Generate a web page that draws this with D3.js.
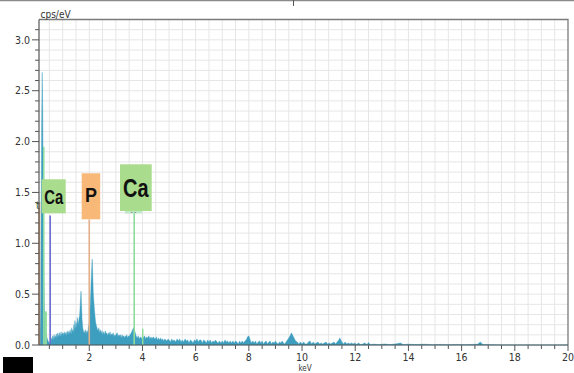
<!DOCTYPE html>
<html><head><meta charset="utf-8">
<script src="https://cdn.jsdelivr.net/npm/d3@7"></script>
<style>body{margin:0;background:#fff}svg{display:block}</style>
</head><body>
<script>
// spectrum: [keV, cps/eV]
const spectrum = [
[0.11,0],[0.14,0.05],[0.17,0.4],[0.19,1.3],[0.21,2.2],[0.23,2.68],[0.25,2.3],[0.27,1.5],[0.29,0.8],[0.31,0.4],[0.33,0.25],[0.36,0.15],[0.40,0.08],[0.45,0.04],[0.50,0.02],[0.53,0.01],
[0.56,0.03],[0.58,0.07],[0.60,0.05],[0.62,0.09],[0.64,0.05],[0.66,0.08],[0.68,0.1],[0.70,0.06],[0.72,0.09],[0.74,0.07],[0.76,0.11],[0.78,0.07],[0.80,0.09],[0.82,0.12],[0.84,0.08],[0.86,0.1],[0.88,0.12],[0.90,0.08],[0.92,0.1],[0.94,0.13],[0.96,0.09],[0.98,0.11],[1.00,0.12],[1.02,0.09],[1.04,0.12],[1.06,0.1],[1.08,0.13],[1.10,0.1],[1.12,0.12],[1.14,0.09],[1.16,0.13],[1.18,0.11],[1.20,0.14],[1.22,0.1],[1.24,0.13],[1.26,0.11],[1.28,0.15],[1.30,0.12],[1.32,0.11],[1.34,0.17],[1.36,0.13],[1.38,0.15],[1.40,0.12],[1.42,0.2],[1.44,0.14],[1.46,0.24],[1.48,0.15],[1.50,0.22],[1.52,0.17],[1.55,0.27],[1.58,0.2],[1.61,0.25],[1.64,0.3],[1.67,0.45],[1.69,0.53],[1.71,0.4],[1.73,0.25],[1.76,0.16],[1.79,0.13],[1.82,0.12],[1.85,0.15],[1.88,0.11],[1.91,0.14],[1.94,0.12],[1.97,0.18],[2.00,0.22],[2.03,0.36],[2.06,0.55],[2.09,0.75],[2.11,0.845],[2.13,0.7],[2.15,0.52],[2.18,0.4],[2.21,0.3],[2.24,0.22],[2.27,0.19],[2.30,0.16],[2.33,0.14],[2.36,0.17],[2.39,0.12],[2.42,0.15],[2.45,0.11],[2.48,0.14],[2.51,0.1],[2.54,0.13],[2.57,0.1],[2.60,0.14],[2.63,0.11],[2.66,0.12],[2.69,0.09],[2.72,0.12],[2.75,0.1],[2.78,0.13],[2.81,0.09],[2.84,0.11],[2.87,0.1],[2.90,0.12],[2.93,0.08],[2.96,0.1],[2.99,0.09],[3.02,0.11],[3.05,0.12],[3.08,0.08],[3.11,0.1],[3.14,0.09],[3.17,0.1],[3.20,0.07],[3.23,0.1],[3.26,0.08],[3.29,0.09],[3.32,0.07],[3.35,0.09],[3.38,0.08],[3.41,0.1],[3.44,0.07],[3.47,0.09],[3.50,0.08],[3.53,0.1],[3.56,0.11],[3.60,0.13],[3.64,0.16],[3.68,0.17],[3.72,0.13],[3.76,0.09],[3.80,0.07],[3.84,0.09],[3.88,0.06],[3.92,0.08],[3.96,0.06],[4.00,0.09],[4.04,0.07],[4.08,0.09],[4.12,0.06],[4.16,0.08],[4.20,0.07],[4.24,0.09],[4.28,0.06],[4.32,0.08],[4.36,0.06],[4.40,0.08],[4.44,0.07],[4.48,0.06],[4.52,0.08],[4.56,0.05],[4.60,0.07],[4.64,0.05],[4.68,0.07],[4.72,0.05],[4.76,0.06],[4.80,0.04],[4.84,0.06],[4.88,0.05],[4.92,0.04],[4.96,0.06],
[5.00,0.05],[5.05,0.03],[5.10,0.06],[5.15,0.04],[5.20,0.05],[5.25,0.03],[5.30,0.06],[5.35,0.04],[5.40,0.06],[5.45,0.03],[5.50,0.05],[5.55,0.03],[5.60,0.06],[5.65,0.04],[5.70,0.05],[5.75,0.02],[5.80,0.05],[5.85,0.04],[5.90,0.02],[5.95,0.05],[6.00,0.04],[6.05,0.06],[6.10,0.03],[6.15,0.05],[6.20,0.05],[6.25,0.02],[6.30,0.05],[6.35,0.04],[6.40,0.02],[6.45,0.05],[6.50,0.03],[6.55,0.05],[6.60,0.02],[6.65,0.04],[6.70,0.03],[6.75,0.05],[6.80,0.03],[6.85,0.02],[6.90,0.04],[6.95,0.02],[7.00,0.04],[7.05,0.02],[7.10,0.05],[7.15,0.03],[7.20,0.04],[7.25,0.02],[7.30,0.04],[7.35,0.02],[7.40,0.04],[7.45,0.02],[7.50,0.04],[7.55,0.03],[7.60,0.01],[7.65,0.04],[7.70,0.02],[7.75,0.04],[7.80,0.02],[7.85,0.04],[7.90,0.05],[7.95,0.08],[8.00,0.09],[8.05,0.05],[8.10,0.02],[8.15,0.04],[8.20,0.02],[8.25,0.04],[8.30,0.01],[8.35,0.03],[8.40,0.04],[8.45,0.02],[8.50,0.04],[8.55,0.01],[8.60,0.03],[8.65,0.04],[8.70,0.01],[8.75,0.03],[8.80,0.04],[8.85,0.01],[8.90,0.03],[8.95,0.02],[9.00,0.04],[9.05,0.02],[9.10,0.01],[9.15,0.03],[9.20,0.02],[9.25,0.04],[9.30,0.02],[9.35,0.01],[9.40,0.03],[9.45,0.05],[9.50,0.07],[9.55,0.09],[9.60,0.12],[9.64,0.1],[9.68,0.08],[9.72,0.06],[9.76,0.04],[9.82,0.03],[9.88,0.01],[9.94,0.03],[10.00,0.01],[10.06,0.03],[10.12,0.01],[10.18,0.01],[10.24,0.03],[10.30,0.04],[10.36,0.01],[10.42,0.03],[10.48,0.01],[10.54,0.02],[10.60,0.03],[10.66,0.01],[10.72,0.02],[10.78,0.01],[10.84,0.02],[10.90,0.03],[10.96,0.01],[11.02,0.02],[11.08,0.01],[11.14,0.02],[11.20,0.03],[11.26,0.01],[11.32,0.03],[11.38,0.05],[11.42,0.07],[11.46,0.05],[11.50,0.03],[11.56,0.01],[11.62,0.03],[11.68,0.01],[11.74,0.02],[11.80,0.01],[11.86,0.02],[11.92,0.01],[11.98,0.02],[12.05,0.005],[12.12,0.02],[12.20,0.005],[12.28,0.01],[12.36,0.02],[12.44,0.005],[12.50,0.025],[12.56,0.005],[12.7,0.008],[12.9,0.004],[13.1,0.01],[13.3,0.004],[13.5,0.01],[13.7,0.02],[13.8,0.004],[14.0,0.008],[14.3,0.004],[14.6,0.008],[14.9,0.003],[15.2,0.006],[15.5,0.003],[15.8,0.006],[16.1,0.003],[16.4,0.006],[16.6,0.008],[16.7,0.03],[16.8,0.006],[17.1,0.003],[17.5,0.001],[18.0,0.0],[20.0,0.0]
];
const xTicks = [2,4,6,8,10,12,14,16,18,20];
const yTicks = [0.0,0.5,1.0,1.5,2.0,2.5,3.0];
const markerLabels = ["Ca","P","Ca"];
const markerEnergies = [0.53, 2.0, 3.69];

const W=574,H=373;
const svg=d3.select("body").append("svg").attr("width",W).attr("height",H);
const x=d3.scaleLinear().domain([0.11,20]).range([39,568]);
const y=d3.scaleLinear().domain([0,3.2]).range([345,19.5]);
const font="'DejaVu Sans Condensed', 'DejaVu Sans', sans-serif";

// top strip line
svg.append("line").attr("x1",0).attr("x2",W).attr("y1",0.5).attr("y2",0.5).attr("stroke","#8a8a8a").attr("stroke-width",1.5);
svg.append("line").attr("x1",293.5).attr("x2",293.5).attr("y1",0).attr("y2",6).attr("stroke","#555");

// grid
const g=svg.append("g");
g.selectAll(".vg").data(d3.range(0.5,20,0.5)).join("line")
 .attr("x1",d=>x(d)).attr("x2",d=>x(d)).attr("y1",y(3.2)).attr("y2",y(0)).attr("stroke","#e6e6e6");
g.selectAll(".hg").data(d3.range(1,32).map(i=>i/10)).join("line")
 .attr("x1",x.range()[0]).attr("x2",x.range()[1]).attr("y1",d=>y(d)).attr("y2",d=>y(d)).attr("stroke","#e6e6e6");

// frame top/right
svg.append("path").attr("d",`M${x.range()[0]},${y(3.2)}H${x.range()[1]}V${y(0)}`).attr("fill","none").attr("stroke","#7a7a7a").attr("stroke-width",1.3);

// spectrum
const area=d3.area().x(d=>x(d[0])).y0(y(0)).y1(d=>y(d[1]));
svg.append("path").datum(spectrum).attr("d",area).attr("fill","#3d9ec0").attr("stroke","#3d9ec0").attr("stroke-width",0.4);

// marker lines near origin
svg.append("line").attr("x1",x(0.12)).attr("x2",x(0.12)).attr("y1",y(1.4)).attr("y2",y(0)).attr("stroke","#d9a37a").attr("stroke-width",2);
svg.append("line").attr("x1",x(0.29)).attr("x2",x(0.29)).attr("y1",y(1.95)).attr("y2",y(0)).attr("stroke","#8fdca0").attr("stroke-width",1.5);
svg.append("line").attr("x1",x(0.36)).attr("x2",x(0.36)).attr("y1",y(0.33)).attr("y2",y(0)).attr("stroke","#8fdca0").attr("stroke-width",2.5);
svg.append("text").attr("x",36).attr("y",209).attr("font-family",font).attr("font-size",10).attr("fill","#2d5a2d").text("t");

// marker lines
const markerColors=["#6a6ad2","#e4b08a","#8edc9c"];
const markerTops=[215.5,219.5,212];
svg.selectAll(".ml").data(markerEnergies).join("line")
 .attr("x1",d=>x(d)).attr("x2",d=>x(d)).attr("y1",(d,i)=>markerTops[i]).attr("y2",y(0))
 .attr("stroke",(d,i)=>markerColors[i]).attr("stroke-width",1.6);
svg.append("line").attr("x1",x(4.01)).attr("x2",x(4.01)).attr("y1",y(0.16)).attr("y2",y(0)).attr("stroke","#8edc9c").attr("stroke-width",1.5);

// label boxes
const boxes=[
 {x:41.7,y:179.3,w:24,h:34,fill:"#a9dc8c",fs:21,tw:19,base:204},
 {x:81.7,y:173.3,w:18.5,h:46,fill:"#f8b877",fs:21,tw:12,base:202},
 {x:120,y:164.3,w:31.7,h:46.7,fill:"#a9dc8c",fs:26,tw:25.5,base:197}
];
svg.append("rect").attr("x",125).attr("y",210).attr("width",17).attr("height",3.5).attr("fill","#bfeac8");
svg.append("text").attr("x",133.5).attr("y",214).attr("text-anchor","middle").attr("font-size",6).attr("fill","#333").text("- -");
boxes.forEach((b,i)=>{
 svg.append("rect").attr("x",b.x).attr("y",b.y).attr("width",b.w).attr("height",b.h).attr("fill",b.fill);
 svg.append("text").attr("x",b.x+b.w/2-b.tw/2).attr("y",b.base)
  .attr("textLength",b.tw).attr("lengthAdjust","spacingAndGlyphs")
  .attr("font-family","'Liberation Sans', Arial, sans-serif").attr("font-weight","bold").attr("font-size",b.fs).attr("fill","#111").text(markerLabels[i]);
});

// axes
const xa=svg.append("g").attr("transform",`translate(0,${y(0)})`);
xa.append("line").attr("x1",x.range()[0]).attr("x2",x.range()[1]).attr("stroke","#555").attr("stroke-width",1.2);
xa.selectAll(".mt").data(d3.range(0.5,20.01,0.5)).join("line")
 .attr("x1",d=>x(d)).attr("x2",d=>x(d)).attr("y1",0).attr("y2",d=>d%2===0?6:4).attr("stroke","#555");
xa.selectAll(".xl").data(xTicks).join("text").attr("x",d=>x(d)).attr("y",16).attr("text-anchor","middle")
 .attr("font-family",font).attr("font-stretch","condensed").attr("font-size",10.5).attr("fill","#333").text(d=>d);
svg.append("text").attr("x",305).attr("y",371).attr("text-anchor","middle").attr("font-family",font).attr("font-stretch","condensed").attr("font-size",8).attr("fill","#333").text("keV");

const ya=svg.append("g").attr("transform",`translate(${x.range()[0]},0)`);
ya.append("line").attr("y1",y(3.2)).attr("y2",y(0)).attr("stroke","#555").attr("stroke-width",1.2);
ya.selectAll(".ymt").data(d3.range(0,32).map(i=>i/10)).join("line")
 .attr("y1",d=>y(d)).attr("y2",d=>y(d)).attr("x1",d=>Math.round(d*10)%5===0?-7:-4).attr("x2",0).attr("stroke","#555");
ya.selectAll(".yl").data(yTicks).join("text").attr("x",-9).attr("y",d=>y(d)).attr("dy","0.35em").attr("text-anchor","end")
 .attr("font-family",font).attr("font-stretch","condensed").attr("font-size",10.5).attr("fill","#333").text(d=>d.toFixed(1));
svg.append("text").attr("x",40.5).attr("y",17.5).attr("font-family",font).attr("font-stretch","condensed").attr("font-size",10).attr("fill","#333").text("cps/eV");

// black box bottom-left
svg.append("rect").attr("x",3).attr("y",357).attr("width",30).attr("height",16).attr("fill","#000");
</script>
</body></html>
